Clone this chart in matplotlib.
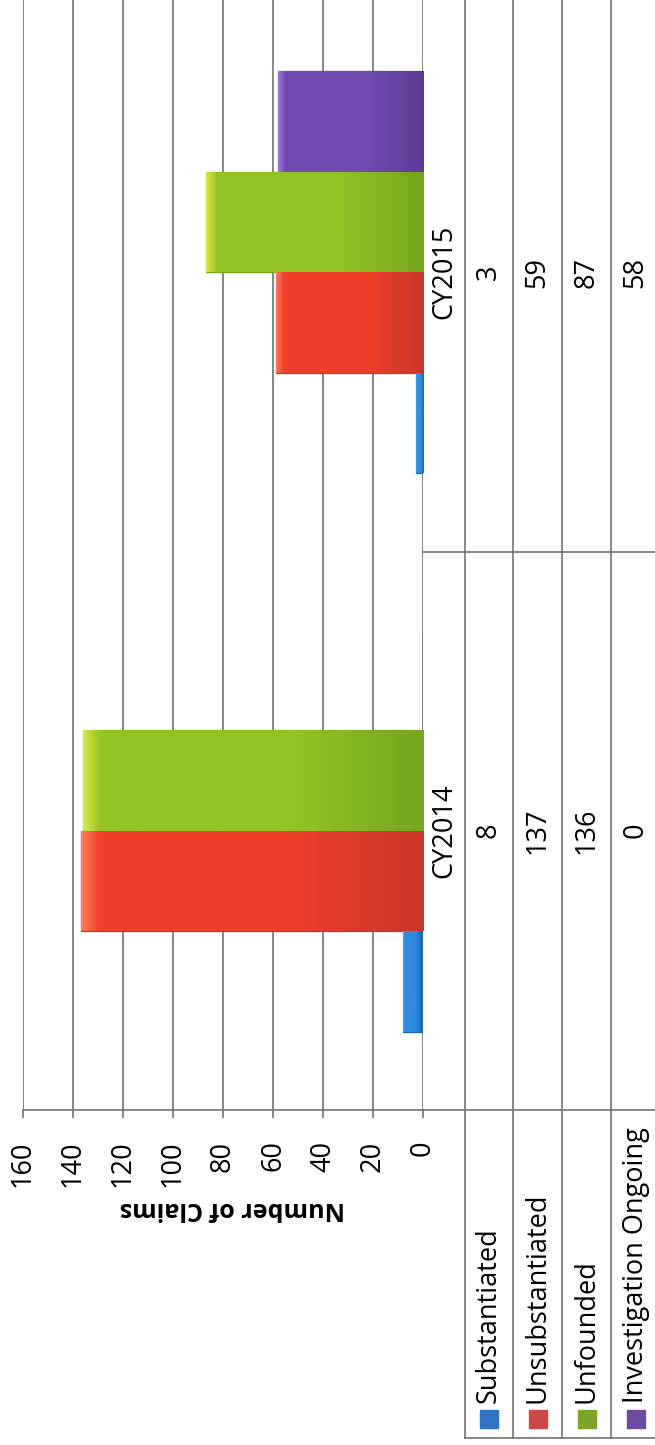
import numpy as np
import matplotlib.pyplot as plt
from matplotlib.colors import LinearSegmentedColormap
from matplotlib.patches import Rectangle
from matplotlib.transforms import blended_transform_factory

# claims per year (chart is printed rotated 90 degrees)
years = ['CY2014', 'CY2015']
series = ['Substantiated', 'Unsubstantiated', 'Unfounded', 'Investigation Ongoing']
substantiated = [8, 3]
unsubstantiated = [137, 59]
unfounded = [136, 87]
ongoing = [0, 58]
values = [substantiated, unsubstantiated, unfounded, ongoing]
ticks = [0, 20, 40, 60, 80, 100, 120, 140, 160]

# (highlight, body, shade) for the bevelled bars, flat colour for legend keys
bar_cols = [('#7cc6fa', '#2f8ce0', '#1b63bb'),
            ('#ff7a5c', '#f0402c', '#c9372a'),
            ('#d6e84a', '#94c424', '#77a51f'),
            ('#9a7ad6', '#6f4bb0', '#5a3e96')]
key_cols = ['#3074c4', '#c94a48', '#7ba428', '#6a4d9c']
grid_col = '#737373'
fs = 19.5

W, H = 655, 1445
plt.rcParams['font.family'] = ['Open Sans', 'DejaVu Sans']
fig = plt.figure(figsize=(W/100, H/100), dpi=100)

def box(x0, y0, x1, y1):
    # pixel box (top-left origin) -> figure fraction
    return [x0/W, 1 - y1/H, (x1 - x0)/W, (y1 - y0)/H]

ax = fig.add_axes(box(23, -7, 423, 1110))
h = 0.18
y = np.arange(len(years))
for i, vals in enumerate(values):
    bars = ax.barh(y + (i - 1.5)*h, vals, height=h, color=bar_cols[i][1],
                   edgecolor=bar_cols[i][2], lw=0.9, zorder=3)
    cmap = LinearSegmentedColormap.from_list('b%d' % i, [
        (0, bar_cols[i][0]), (0.05, bar_cols[i][1]), (0.6, bar_cols[i][1]), (1, bar_cols[i][2])])
    for b, v in zip(bars, vals):
        if v <= 0:
            continue
        y0 = b.get_y()
        im = ax.imshow(np.linspace(0, 1, 256)[None, :], cmap=cmap, aspect='auto',
                       extent=(v, 0, y0, y0 + h), zorder=3.5, interpolation='bilinear')
        im.set_clip_path(b)

ax.set_xlim(160, 0)
ax.set_ylim(-0.5, 1.5)
ax.set_xticks(ticks)
ax.set_yticks([])
ax.grid(axis='x', color=grid_col, lw=1.2)
ax.set_axisbelow(True)
for s in ['top', 'left', 'right']:
    ax.spines[s].set_visible(False)
ax.spines['bottom'].set_color(grid_col)
ax.spines['bottom'].set_linewidth(1.2)
ax.tick_params(axis='x', direction='out', length=6, width=1.2, color=grid_col,
               pad=16, labelsize=fs, labelrotation=90)

# overlay in image pixels for the data table and legend
ov = fig.add_axes([0, 0, 1, 1], zorder=5)
ov.set_xlim(0, W)
ov.set_ylim(H, 0)
ov.axis('off')
ov.patch.set_visible(False)
blend = blended_transform_factory(ov.transData, ax.transData)

row_edges = [423, 465, 513, 562, 611, 660]
row_c = [(a + b)/2 for a, b in zip(row_edges[:-1], row_edges[1:])]
lc = dict(color=grid_col, lw=1.2)
for xe in row_edges[1:-1]:
    ov.plot([xe, xe], [0, 1438], **lc)
ov.plot([row_edges[1], W], [1438, 1438], **lc)
ov.plot([row_edges[0], W], [-0.5, -0.5], transform=blend, **lc)
ov.plot([row_edges[0], W], [0.5, 0.5], transform=blend, **lc)

for j, yr in enumerate(years):
    ov.text(row_c[0], j, yr, transform=blend, rotation=90, ha='center', va='center', fontsize=fs)
    for i, vals in enumerate(values):
        ov.text(row_c[i + 1], j, str(vals[j]), transform=blend, rotation=90,
                ha='center', va='center', fontsize=fs)

for i, name in enumerate(series):
    xc = row_c[i + 1]
    ov.add_patch(Rectangle((xc - 9, 1410), 18, 18, color=key_cols[i]))
    ov.text(xc, 1403, name, rotation=90, ha='center', va='bottom', fontsize=fs)

ov.text(232, 1209, 'Number of Claims', rotation=180, ha='center', va='center',
        fontsize=18, fontweight='bold')

fig.savefig('out.png', dpi=100)
